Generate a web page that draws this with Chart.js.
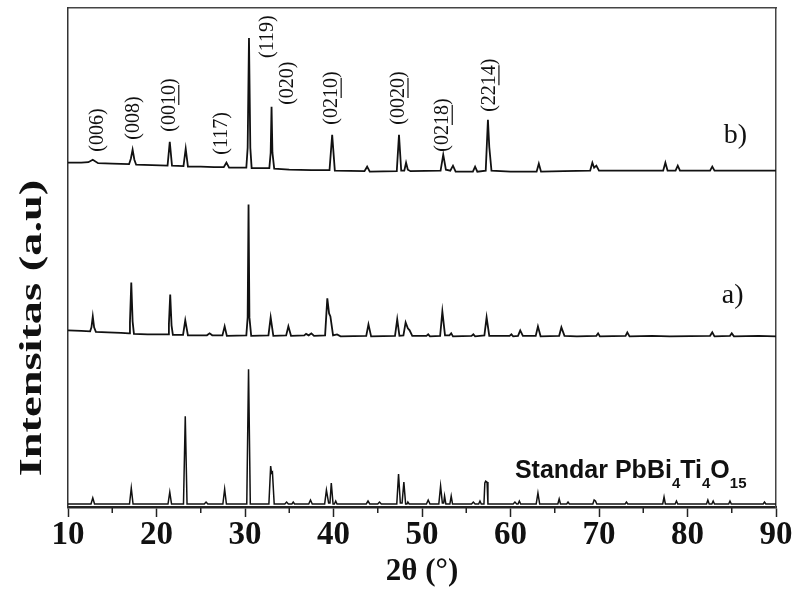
<!DOCTYPE html>
<html>
<head>
<meta charset="utf-8">
<script src="https://cdn.jsdelivr.net/npm/chart.js@4.4.1/dist/chart.umd.min.js"></script>
<style>
  body { margin: 0; background: #fff; }
  #xrdChart { display: block; }
</style>
</head>
<body>
<canvas id="xrdChart" width="800" height="592"></canvas>
<script>
// diffraction patterns, [2theta, stacked intensity]
var patternStd = [
  [10,3],[12.6,3],[12.8,9],[13.0,3],[16.95,3],[17.15,19],[17.35,3],[21.3,3],[21.5,15],[21.7,3],
  [23.05,3],[23.25,91],[23.45,3],[25.4,3],[25.6,5],[25.8,3],[27.5,3],[27.7,18],[27.9,3],
  [30.2,3],[30.4,138],[30.6,3],[32.7,3],[32.9,41],[33.0,34],[33.1,35],[33.3,3],
  [34.5,3],[34.7,5],[34.9,3],[35.3,3],[35.45,5],[35.6,3],[37.2,3],[37.4,7],[37.6,3],
  [39.0,3],[39.2,17],[39.45,4],[39.6,4],[39.75,24],[39.95,3],[40.1,3],[40.25,6],[40.4,3],
  [43.7,3],[43.9,6],[44.1,3],[45.0,3],[45.2,5],[45.4,3],[47.15,3],[47.35,33],[47.55,4],
  [47.75,4],[47.95,25],[48.15,3],[48.3,3],[48.4,5],[48.55,3],[50.5,3],[50.7,7],[50.9,3],
  [51.9,3],[52.1,21],[52.3,4],[52.45,4],[52.55,11],[52.7,3],[53.15,3],[53.3,11],[53.45,3],
  [55.6,3],[55.8,5],[56.0,3],[56.4,3],[56.55,6],[56.7,3],[57.0,3],[57.1,24],[57.2,26],
  [57.35,25],[57.45,3],[60.3,3],[60.5,5],[60.7,3],[60.85,3],[61.0,6],[61.15,3],
  [62.9,3],[63.1,14],[63.3,3],[65.35,3],[65.5,8],[65.65,3],[66.35,3],[66.5,5],[66.65,3],
  [69.3,3],[69.45,7],[69.6,6],[69.75,3],[72.95,3],[73.1,5],[73.25,3],[77.2,3],[77.35,10],
  [77.5,3],[78.6,3],[78.75,6],[78.9,3],[82.15,3],[82.3,7],[82.45,3],[82.75,3],[82.9,6],
  [83.05,3],[84.65,3],[84.8,6],[84.95,3],[88.55,3],[88.7,5],[88.85,3],[90,3]
];

var patternA = [
  [10,177],[11.5,176.5],[12.5,176],[12.65,180],[12.8,191],[12.95,180],[13.15,175.5],[14.5,175],
  [16,174.5],[16.9,174],[17.0,185],[17.15,225],[17.3,186],[17.45,173.5],[19,173],[21.3,173],
  [21.4,183],[21.55,213],[21.7,182],[21.85,172.5],[23.0,172.5],[23.25,187],[23.55,172],
  [25.7,172],[26.0,174],[26.3,172],[27.45,172],[27.7,181],[27.95,171.5],
  [30.15,172],[30.3,190],[30.4,303],[30.5,190],[30.7,171.5],[32.65,172],[32.9,190],[33.2,171.5],
  [34.65,172],[34.9,181],[35.2,171.5],[36.7,172],[36.9,173.5],[37.2,172],[37.5,174],[37.8,171.5],
  [39.05,172],[39.3,209],[39.5,194],[39.65,191],[39.95,172],[40.4,173],[40.8,171],
  [43.7,171.5],[43.95,183],[44.25,171],[46.95,171.5],[47.2,188],[47.45,171.5],[47.9,172],
  [48.15,185],[48.4,179],[48.6,177],[48.9,171.5],[50.5,171.5],[50.7,173],[50.9,171],
  [52.05,171.5],[52.3,196],[52.6,172],[53.1,172],[53.3,174],[53.5,171],[55.6,171.5],
  [55.8,173],[56.0,171],[57.05,172],[57.3,190],[57.6,171.5],[59.9,171.5],[60.1,173],
  [60.3,171],[60.85,171.5],[61.1,177],[61.4,171.5],[62.85,171.5],[63.1,181],[63.4,171],
  [65.5,171.5],[65.75,180],[66.1,171.5],[67.5,171],[69.7,171.5],[69.9,174],[70.1,171],
  [73.0,171.5],[73.2,175],[73.45,171],[76,171.5],[78,171],[82.55,171.5],[82.8,175],
  [83.05,171],[84.8,171.5],[85.0,174],[85.25,171],[88,171.5],[90,171]
];

var patternB = [
  [10,345],[11.5,345],[12.3,345.5],[12.8,348],[13.4,344.5],[15,344],[16.9,343.5],[17.1,349],
  [17.3,358],[17.5,348],[17.7,343],[19.5,342.5],[21.25,342],[21.5,366],[21.75,342],[23.05,341.5],
  [23.3,359],[23.55,341],[25,341],[26.5,340.5],[27.6,340.5],[27.9,345],[28.2,340],[30.15,340],
  [30.3,360],[30.45,470],[30.6,360],[30.75,339.5],[32.75,339.5],[32.9,355],[33.0,401],
  [33.1,355],[33.3,339],[35,338],[37.5,337.5],
  [39.55,337.5],[39.85,373],[40.15,337],[43.5,336.5],[43.8,341],[44.1,336],[47.15,336.5],
  [47.4,373],[47.65,337],[48.0,337],[48.2,345],[48.4,338],[48.7,336.5],[52.1,337],
  [52.4,353],[52.7,338],[53.2,337],[53.5,342],[53.8,336],[55.75,336],[56.0,341],[56.25,336],
  [57.2,337],[57.45,388],[57.6,361],[57.85,337],[60,336],[62.95,336],[63.2,344],[63.45,336],
  [66,336.5],[69.0,337],[69.25,345],[69.45,340],[69.7,342],[70.0,337],[73,337],[77.25,337],
  [77.5,345],[77.75,337],[78.65,337],[78.9,342],[79.15,337],[82.55,337],[82.8,341],
  [83.05,337],[86,337],[90,337]
];

// Miller indices on pattern b) : [before, underlined, after]
var hklText = [
  ['(006)','',''], ['(008)','',''], ['(00','10',')'], ['(117)','',''], ['(119)','',''],
  ['(020)','',''], ['(02','10',')'], ['(00','20',')'], ['(02','18',')'], ['(22','14',')']
];
var hklPeak = [12.8, 17.3, 21.5, 27.9, 30.45, 33.0, 39.85, 47.4, 52.4, 57.45];

var xTicks = [10, 20, 30, 40, 50, 60, 70, 80, 90];

// where each index label starts (px shift, intensity of its lower end)
var hklLayout = [
  {dx: 5, at: 356}, {dx: 1, at: 368}, {dx: 0, at: 376}, {dx: -5, at: 353}, {dx: 19, at: 450},
  {dx: 16, at: 403}, {dx: 0, at: 383}, {dx: 0, at: 383}, {dx: 0, at: 356}, {dx: 2, at: 396}
];

function toPoints(arr) {
  return arr.map(function(p) { return {x: p[0], y: p[1]}; });
}

var textPlugin = {
  id: 'xrdText',
  afterDraw: function(chart) {
    var ctx = chart.ctx;
    var xs = chart.scales.x, ys = chart.scales.y;
    ctx.save();
    ctx.fillStyle = '#111';
    ctx.strokeStyle = '#111';

    // hkl labels, rotated
    ctx.font = '20px "Liberation Serif", serif';
    ctx.textAlign = 'left';
    ctx.textBaseline = 'middle';
    ctx.lineWidth = 1.2;
    for (var i = 0; i < hklText.length; i++) {
      var px = xs.getPixelForValue(hklPeak[i]) + hklLayout[i].dx;
      var py = ys.getPixelForValue(hklLayout[i].at);
      var t = hklText[i];
      ctx.save();
      ctx.translate(px, py);
      ctx.rotate(-Math.PI / 2);
      ctx.fillText(t[0] + t[1] + t[2], 0, 0);
      if (t[1]) {
        var w0 = ctx.measureText(t[0]).width;
        var w1 = ctx.measureText(t[1]).width;
        ctx.beginPath();
        ctx.moveTo(w0, 9);
        ctx.lineTo(w0 + w1, 9);
        ctx.stroke();
      }
      ctx.restore();
    }

    // series tags
    ctx.font = '28px "Liberation Serif", serif';
    ctx.textAlign = 'center';
    ctx.fillText('b)', xs.getPixelForValue(85.4), ys.getPixelForValue(372));
    ctx.fillText('a)', xs.getPixelForValue(85.1), ys.getPixelForValue(212));

    // standard reference name with subscripts
    var parts = [['Standar PbBi', 0], ['4', 1], ['Ti', 0], ['4', 1], ['O', 0], ['15', 1]];
    var sx = xs.getPixelForValue(60.5);
    var sy = ys.getPixelForValue(29);
    ctx.textAlign = 'left';
    ctx.textBaseline = 'alphabetic';
    parts.forEach(function(p) {
      ctx.font = p[1] ? 'bold 15px "Liberation Sans", Arial, sans-serif' : 'bold 25px "Liberation Sans", Arial, sans-serif';
      ctx.fillText(p[0], sx, p[1] ? sy + 10 : sy);
      sx += ctx.measureText(p[0]).width;
    });

    // y axis title, stretched along its length
    ctx.save();
    ctx.translate(33, 328);
    ctx.rotate(-Math.PI / 2);
    ctx.scale(1.45, 1);
    ctx.font = 'bold 32px "Liberation Serif", serif';
    ctx.textAlign = 'center';
    ctx.textBaseline = 'middle';
    ctx.fillText('Intensitas (a.u)', 0, 0);
    ctx.restore();

    // minor ticks every 5 degrees
    ctx.lineWidth = 1.5;
    ctx.strokeStyle = '#222';
    var bottom = chart.chartArea.bottom;
    for (var k = 0; k < xTicks.length - 1; k++) {
      var mx = xs.getPixelForValue(xTicks[k] + 5);
      ctx.beginPath();
      ctx.moveTo(mx, bottom);
      ctx.lineTo(mx, bottom + 6);
      ctx.stroke();
    }
    ctx.restore();
  }
};

var ctx = document.getElementById('xrdChart').getContext('2d');
var lineStyle = {
  borderColor: '#111',
  borderWidth: 1.8,
  pointRadius: 0,
  tension: 0,
  fill: false
};

var myChart = new Chart(ctx, {
  type: 'line',
  data: {
    datasets: [
      Object.assign({label: 'Standar', data: toPoints(patternStd)}, lineStyle, {borderWidth: 1.5}),
      Object.assign({label: 'a)', data: toPoints(patternA)}, lineStyle),
      Object.assign({label: 'b)', data: toPoints(patternB)}, lineStyle)
    ]
  },
  options: {
    responsive: false,
    animation: false,
    layout: {
      padding: {left: 68, right: 24, top: 8, bottom: 5}
    },
    plugins: {
      legend: { display: false },
      tooltip: { enabled: false }
    },
    scales: {
      x: {
        type: 'linear',
        position: 'bottom',
        min: 10,
        max: 90,
        afterBuildTicks: function(scale) {
          scale.ticks = xTicks.map(function(v) { return {value: v}; });
        },
        ticks: {
          color: '#111',
          padding: 2,
          font: { family: '"Liberation Serif", serif', size: 33, weight: 'bold', lineHeight: 1 }
        },
        grid: {
          drawOnChartArea: false,
          drawTicks: true,
          tickLength: 10,
          tickWidth: 1.5,
          tickColor: '#222'
        },
        border: { color: '#222', width: 2.5 },
        title: {
          display: true,
          text: '2θ (°)',
          color: '#111',
          padding: {top: 2, bottom: 0},
          font: { family: '"Liberation Serif", serif', size: 31, weight: 'bold', lineHeight: 1 }
        }
      },
      x2: {
        type: 'linear',
        position: 'top',
        min: 10,
        max: 90,
        ticks: { display: false },
        grid: { display: false, drawTicks: false },
        border: { color: '#444', width: 1.5 }
      },
      y: {
        position: 'left',
        min: 0,
        max: 500,
        ticks: { display: false },
        grid: { display: false, drawTicks: false },
        border: { color: '#333', width: 1.5 }
      },
      y2: {
        position: 'right',
        min: 0,
        max: 500,
        ticks: { display: false },
        grid: { display: false, drawTicks: false },
        border: { color: '#444', width: 1.5 }
      }
    }
  },
  plugins: [textPlugin]
});
</script>
</body>
</html>
